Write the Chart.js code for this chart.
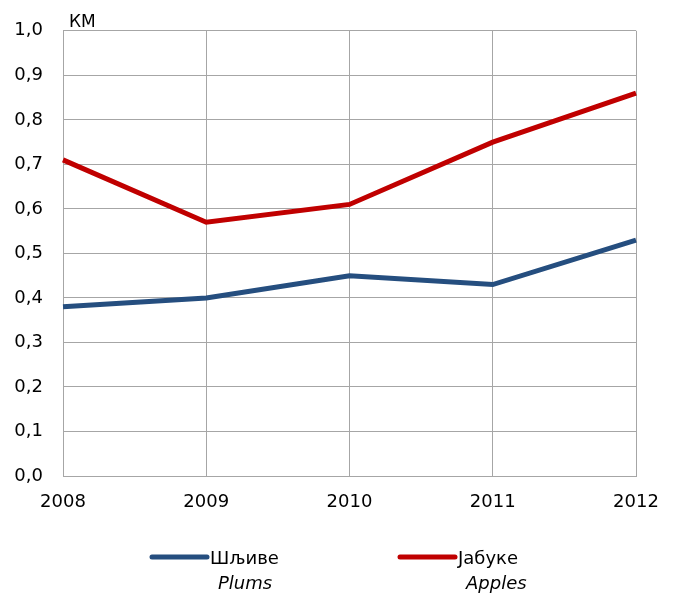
<!DOCTYPE html>
<html>
<head>
<meta charset="utf-8">
<script src="https://cdn.jsdelivr.net/npm/chart.js@4"></script>
<style>
  html, body { margin: 0; padding: 0; background: #fff; }
  canvas { display: block; }
</style>
</head>
<body>
<canvas id="chart" width="673" height="599"></canvas>
<script>
const years = ['2008', '2009', '2010', '2011', '2012'];
const plums = [0.38, 0.40, 0.45, 0.43, 0.53];
const apples = [0.71, 0.57, 0.61, 0.75, 0.86];
const seriesNames = ['Шљиве', 'Јабуке'];
const seriesNamesEn = ['Plums', 'Apples'];
const unitLabel = 'КМ';

const FONT = 'DejaVu Sans';
const grid = '#a6a6a6';

const legendAndUnit = {
    id: 'legendAndUnit',
    afterDraw(chart) {
        const ctx = chart.ctx;
        const area = chart.chartArea;
        ctx.save();
        ctx.fillStyle = '#000';
        ctx.font = `17px "${FONT}"`;
        ctx.textBaseline = 'alphabetic';
        ctx.textAlign = 'left';
        ctx.fillText(unitLabel, area.left + 6, area.top - 4);

        const slots = [152, 400];
        chart.data.datasets.forEach((ds, i) => {
            const x = slots[i];
            ctx.strokeStyle = ds.borderColor;
            ctx.lineWidth = 5;
            ctx.lineCap = 'round';
            ctx.beginPath();
            ctx.moveTo(x, 557);
            ctx.lineTo(x + 55, 557);
            ctx.stroke();
            ctx.font = `18px "${FONT}"`;
            ctx.fillText(seriesNames[i], x + 58, 564);
            ctx.font = `italic 18px "${FONT}"`;
            ctx.fillText(seriesNamesEn[i], x + 66, 589);
        });
        ctx.restore();
    }
};

new Chart(document.getElementById('chart'), {
    type: 'line',
    data: {
        labels: years,
        datasets: [{
            label: seriesNames[0],
            data: plums,
            borderColor: '#254e7f',
            borderWidth: 5,
            pointRadius: 0,
            tension: 0
        }, {
            label: seriesNames[1],
            data: apples,
            borderColor: '#c00000',
            borderWidth: 5,
            pointRadius: 0,
            tension: 0
        }]
    },
    options: {
        responsive: false,
        animation: false,
        layout: { padding: { top: 26, right: 37, left: 0, bottom: 0 } },
        plugins: {
            legend: { display: false },
            tooltip: { enabled: false }
        },
        scales: {
            x: {
                offset: false,
                grid: { color: grid, drawTicks: false },
                border: { color: grid },
                ticks: {
                    color: '#000',
                    padding: 16,
                    maxRotation: 0,
                    font: { family: FONT, size: 18 }
                },
                afterFit: (s) => {
                    s.height = 123;
                    s.paddingLeft = 0;
                    s.paddingRight = 0;
                }
            },
            y: {
                min: 0,
                max: 1,
                grid: { color: grid, drawTicks: false },
                border: { color: grid },
                ticks: {
                    stepSize: 0.1,
                    color: '#000',
                    padding: 20,
                    font: { family: FONT, size: 18 },
                    callback: (v) => v.toFixed(1).replace('.', ',')
                },
                afterFit: (s) => { s.width = 63; }
            }
        }
    },
    plugins: [legendAndUnit]
});
</script>
</body>
</html>
